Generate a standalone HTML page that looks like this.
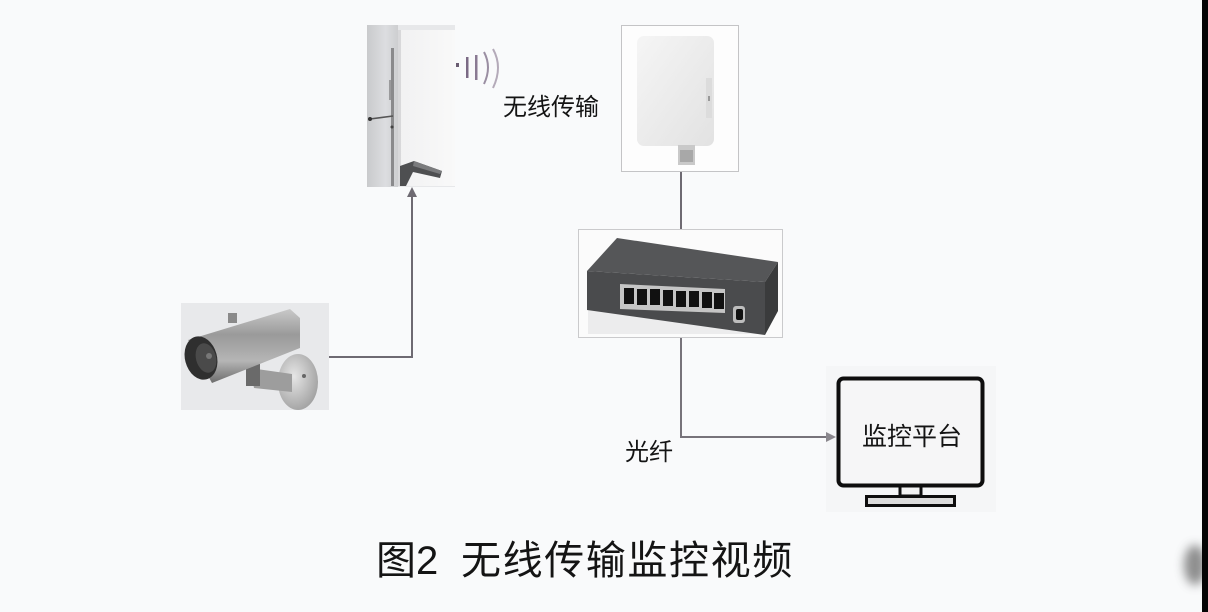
<!DOCTYPE html>
<html>
<head>
<meta charset="utf-8">
<style>
  html,body{margin:0;padding:0;}
  body{width:1208px;height:612px;overflow:hidden;background:#f9fafb;position:relative;}
  svg{position:absolute;left:0;top:0;}
  .t{font-family:"Liberation Sans","Noto Sans CJK SC",sans-serif;fill:#141414;}
</style>
</head>
<body>
<svg width="1208" height="612" viewBox="0 0 1208 612" xmlns="http://www.w3.org/2000/svg">
  <defs>
    <linearGradient id="panelL" x1="0" x2="1" y1="0" y2="0">
      <stop offset="0" stop-color="#c9cacc"/>
      <stop offset="0.6" stop-color="#dcdde0"/>
      <stop offset="1" stop-color="#cdced0"/>
    </linearGradient>
    <linearGradient id="panelW" x1="0" x2="1" y1="0" y2="0">
      <stop offset="0" stop-color="#f1f1f2"/>
      <stop offset="1" stop-color="#f9f9f9"/>
    </linearGradient>
    <linearGradient id="rpanel" x1="0" x2="1" y1="0" y2="1">
      <stop offset="0" stop-color="#f5f5f5"/>
      <stop offset="1" stop-color="#e2e2e2"/>
    </linearGradient>
    <linearGradient id="camBody" x1="0" x2="0" y1="0" y2="1">
      <stop offset="0" stop-color="#c9c9c9"/>
      <stop offset="0.35" stop-color="#9a9a9a"/>
      <stop offset="0.7" stop-color="#b5b5b5"/>
      <stop offset="1" stop-color="#6d6d6d"/>
    </linearGradient>
    <radialGradient id="disc" cx="0.4" cy="0.4" r="0.7">
      <stop offset="0" stop-color="#e6e6e6"/>
      <stop offset="1" stop-color="#9c9c9c"/>
    </radialGradient>
    <filter id="blur" x="-1" y="-1" width="3" height="3">
      <feGaussianBlur stdDeviation="5"/>
    </filter>
  </defs>

  <!-- monitor faint background (behind connectors) -->
  <rect x="826" y="366" width="170" height="146" fill="#f5f6f7"/>

  <!-- ===== Left antenna photo ===== -->
  <rect x="367" y="25" width="88" height="162" fill="#e7e8ea"/>
  <rect x="367" y="25" width="31" height="162" fill="url(#panelL)"/>
  <rect x="391" y="48" width="3" height="138" fill="#8a8a8c"/>
  <rect x="389" y="80" width="2" height="20" fill="#9a9a9c"/>
  <line x1="370" y1="119" x2="393" y2="116" stroke="#555" stroke-width="1.5"/>
  <circle cx="370" cy="119" r="2" fill="#333"/>
  <circle cx="392" cy="127" r="1.5" fill="#444"/>
  <rect x="398" y="30" width="57" height="156" fill="url(#panelW)"/>
  <rect x="398" y="30" width="3" height="156" fill="#d8d8da"/>
  <path d="M400 166 L414 161 L442 171 L440 178 L413 172 L406 186 L400 186 Z" fill="#4e4f51"/>
  <path d="M414 161 L442 171 L440 174 L413 166 Z" fill="#7a7b7d"/>

  <!-- radio waves -->
  <rect x="456" y="63" width="3" height="4" fill="#6a5d72"/>
  <rect x="466" y="57" width="2.5" height="21" fill="#7b6a85"/>
  <rect x="475" y="55" width="2.5" height="25" fill="#8a7a93"/>
  <path d="M484 52 Q492 67 484 84" fill="none" stroke="#9a8ea2" stroke-width="2"/>
  <path d="M493 49 Q503 67 493 88" fill="none" stroke="#b4aab9" stroke-width="2"/>

  <text x="503" y="115" class="t" font-size="24" fill="#1a1420">无线传输</text>

  <!-- ===== Right antenna box ===== -->
  <rect x="621.5" y="25.5" width="117" height="146" fill="#fdfdfd" stroke="#c4c4c6" stroke-width="1"/>
  <rect x="637" y="36" width="77" height="110" rx="7" fill="url(#rpanel)"/>
  <rect x="706" y="78" width="6" height="40" fill="#dcdcdc"/>
  <rect x="708" y="96" width="2" height="5" fill="#999"/>
  <rect x="678" y="145" width="17" height="20" fill="#c9c9c9"/>
  <rect x="680" y="150" width="13" height="12" fill="#a8a8a8"/>

  <!-- connectors -->
  <line x1="681" y1="172" x2="681" y2="230" stroke="#6e6a72" stroke-width="2"/>
  <line x1="681" y1="338" x2="681" y2="437" stroke="#77737a" stroke-width="2"/>
  <line x1="680" y1="437" x2="828" y2="437" stroke="#77737a" stroke-width="2"/>
  <polygon points="836,437 826,432 826,442" fill="#8a878d"/>

  <line x1="329" y1="357" x2="412" y2="357" stroke="#6e6a72" stroke-width="2"/>
  <line x1="412" y1="358" x2="412" y2="195" stroke="#6e6a72" stroke-width="2"/>
  <polygon points="412,187 407,197 417,197" fill="#6e6a72"/>

  <!-- ===== Switch ===== -->
  <rect x="578.5" y="229.5" width="204" height="108" fill="#fbfbfb" stroke="#cacacc" stroke-width="1"/>
  <rect x="588" y="308" width="175" height="26" fill="#ececed"/>
  <polygon points="617,238 778,262 765,282 587,271" fill="#555658"/>
  <polygon points="587,271 765,282 765,335 587,310" fill="#4a4b4d"/>
  <polygon points="765,282 778,262 778,311 765,335" fill="#3a3b3c"/>
  <polygon points="620,284 725,289 725,313 620,309" fill="#c5c5c5"/>
  <g fill="#111">
    <rect x="624" y="288" width="10" height="16"/>
    <rect x="637" y="289" width="10" height="16"/>
    <rect x="650" y="289" width="10" height="16"/>
    <rect x="663" y="290" width="10" height="16"/>
    <rect x="676" y="291" width="10" height="16"/>
    <rect x="689" y="291" width="10" height="16"/>
    <rect x="702" y="292" width="10" height="16"/>
    <rect x="714" y="293" width="10" height="16"/>
  </g>
  <rect x="733" y="306" width="12" height="17" rx="3" fill="#bdbdbd"/>
  <rect x="736" y="309" width="7" height="11" rx="2" fill="#111"/>

  <!-- ===== Camera ===== -->
  <rect x="181" y="303" width="148" height="107" fill="#e8e9eb"/>
  <ellipse cx="298" cy="382" rx="20" ry="28" fill="url(#disc)"/>
  <circle cx="304" cy="376" r="2" fill="#666"/>
  <polygon points="250,368 292,374 292,392 254,388" fill="#9d9d9d"/>
  <rect x="246" y="364" width="14" height="22" fill="#6a6a6a"/>
  <polygon points="188,340 290,309 300,318 300,348 212,383" fill="url(#camBody)"/>
  <rect x="228" y="313" width="9" height="10" fill="#8a8a8a"/>
  <ellipse cx="201" cy="358" rx="16" ry="22" transform="rotate(-15 201 358)" fill="#2f2f2f"/>
  <ellipse cx="206" cy="358" rx="10" ry="15" transform="rotate(-15 206 358)" fill="#4a4a4a"/>
  <circle cx="209" cy="356" r="3" fill="#777"/>

  <!-- ===== Monitor ===== -->
  <rect x="838.5" y="378.5" width="144" height="107" rx="5" fill="#f6f6f7" stroke="#0e0e0e" stroke-width="4"/>
  <rect x="900" y="486" width="21" height="10" fill="#f3f3f3" stroke="#0e0e0e" stroke-width="3"/>
  <rect x="866.5" y="496.5" width="88" height="9" fill="#dcdcdc" stroke="#0e0e0e" stroke-width="3"/>
  <text x="862" y="445" class="t" font-size="25" fill="#111">监控平台</text>

  <text x="625" y="460" class="t" font-size="24" fill="#111">光纤</text>

  <!-- caption -->
  <text x="376" y="574" class="t" font-size="40" fill="#141414">图2</text>
  <text x="461" y="574" class="t" font-size="40" fill="#141414" letter-spacing="1.6">无线传输监控视频</text>

  <!-- bottom-right smudge -->
  <ellipse cx="1195" cy="565" rx="11" ry="20" fill="#6a6a6a" opacity="0.75" filter="url(#blur)"/>
  <rect x="1202" y="0" width="6" height="612" fill="#050505"/>
</svg>
</body>
</html>
